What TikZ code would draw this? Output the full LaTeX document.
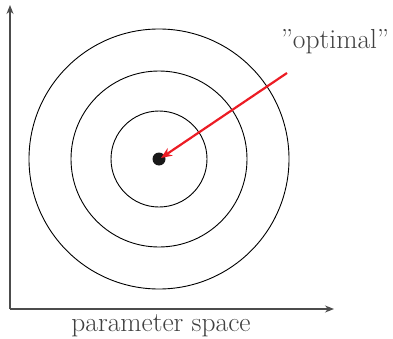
\documentclass[tikz,border=0pt]{standalone}
\usepackage{fontspec}
\setmainfont{Latin Modern Roman}
\usetikzlibrary{arrows.meta}
\definecolor{ptrred}{RGB}{236,28,36}
\begin{document}
\begin{tikzpicture}[x=1pt,y=1pt,
  axis/.style={draw=black!70,line width=1.2pt,-{Stealth[length=9pt,width=7pt]}},
  ring/.style={draw=black,line width=0.9pt},
  lbl/.style={text=black!75,font=\fontsize{27.5}{32}\selectfont,inner sep=0pt},
  pointer/.style={draw=ptrred,line width=2.2pt,-{Stealth[length=11pt,width=9pt]}}]
\useasboundingbox (0,0) rectangle (393,338);
\coordinate (o) at (10,29);
\coordinate (ytip) at (10,333);
\coordinate (xtip) at (334,29);
\draw[axis] (o) -- (ytip);
\draw[axis] (o) -- (xtip);
\coordinate (c) at (159,179);
\draw[ring] (c) circle[radius=48];
\draw[ring] (c) circle[radius=88];
\draw[ring] (c) circle[radius=130];
\node[circle,fill=black!90,minimum size=13pt,inner sep=0pt] (dot) at (c) {};
\node[lbl] (opt) at (335,296) {”optimal”};
\node[lbl] (ps) at (161,12) {parameter space};
\coordinate (start) at (287,265);
\coordinate (end) at (161,180);
\draw[pointer] (start) -- (end);
\end{tikzpicture}
\end{document}
